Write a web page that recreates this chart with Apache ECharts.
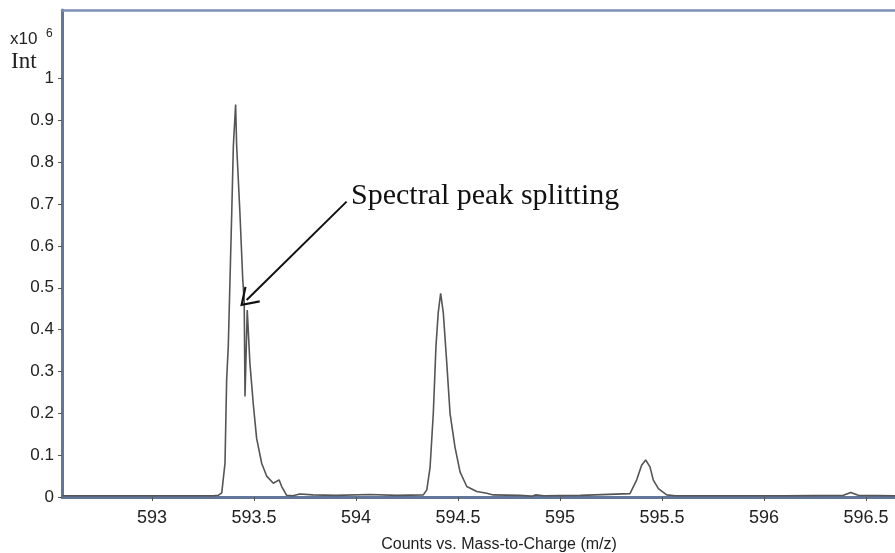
<!DOCTYPE html>
<html>
<head>
<meta charset="utf-8">
<script src="https://cdn.jsdelivr.net/npm/echarts@6/dist/echarts.min.js"></script>
<style>
  html, body { margin: 0; padding: 0; background: #fff; }
  #chart { width: 895px; height: 553px; }
</style>
</head>
<body>
<div id="chart"></div>
<script>
// m/z positions
const mz = [
  592.56, 593.0, 593.30, 593.325, 593.342, 593.358, 593.366, 593.374, 593.391, 593.399,
  593.410, 593.415, 593.431, 593.445, 593.452, 593.456, 593.467, 593.480, 593.497, 593.513,
  593.538, 593.562, 593.595, 593.623, 593.636, 593.660, 593.690, 593.725, 593.789, 593.90,
  594.069, 594.20, 594.330, 594.347, 594.363, 594.379, 594.392, 594.403, 594.415, 594.428,
  594.445, 594.461, 594.485, 594.510, 594.543, 594.592, 594.641, 594.673, 594.80, 594.86,
  594.88, 594.92, 595.10, 595.343, 595.376, 595.400, 595.420, 595.441, 595.457, 595.482,
  595.523, 595.564, 595.80, 596.10, 596.389, 596.425, 596.462, 596.642
]
// intensity (x10^6)
const intensity = [
  0.003, 0.003, 0.003, 0.004, 0.010, 0.081, 0.280, 0.360, 0.680, 0.840,
  0.938, 0.840, 0.680, 0.520, 0.470, 0.240, 0.447, 0.320, 0.220, 0.140,
  0.080, 0.050, 0.033, 0.041, 0.025, 0.004, 0.003, 0.007, 0.005, 0.004,
  0.006, 0.004, 0.005, 0.017, 0.070, 0.200, 0.360, 0.440, 0.487, 0.440,
  0.320, 0.200, 0.120, 0.060, 0.025, 0.013, 0.009, 0.005, 0.004, 0.002,
  0.005, 0.003, 0.004, 0.008, 0.041, 0.076, 0.0885, 0.072, 0.041, 0.020,
  0.005, 0.003, 0.003, 0.003, 0.004, 0.011, 0.004, 0.003
]
const xTicks = [593, 593.5, 594, 594.5, 595, 595.5, 596, 596.5]
const yTicks = [0, 0.1, 0.2, 0.3, 0.4, 0.5, 0.6, 0.7, 0.8, 0.9, 1]
// annotation arrow: from text to the split peak
const arrowFrom = [593.954, 0.706]
const arrowTo = [593.464, 0.471]

const chart = echarts.init(document.getElementById('chart'))
const axisColor = '#62759a'

const option = {
  animation: false,
  grid: { left: 62, right: 0, top: 10, bottom: 56 },
  xAxis: [
    {
      type: 'value',
      min: 592.559,
      max: 596.642,
      axisLine: { lineStyle: { color: axisColor, width: 3 } },
      axisTick: { show: true, customValues: xTicks, length: 4, lineStyle: { color: '#555', width: 1 } },
      axisLabel: {
        customValues: xTicks,
        formatter: v => String(v),
        fontFamily: 'Liberation Sans',
        fontSize: 18,
        color: '#222',
        margin: 12
      },
      splitLine: { show: false }
    },
    {
      type: 'value',
      position: 'top',
      min: 592.559,
      max: 596.642,
      axisLine: { lineStyle: { color: '#7d8fb2', width: 2.5 } },
      axisTick: { show: false },
      axisLabel: { show: false },
      splitLine: { show: false }
    }
  ],
  yAxis: {
    type: 'value',
    min: 0,
    max: 1.164,
    axisLine: { show: true, lineStyle: { color: axisColor, width: 3 } },
    axisTick: { show: true, customValues: yTicks, length: 4, lineStyle: { color: '#555', width: 1 } },
    axisLabel: {
      customValues: yTicks,
      formatter: v => String(v),
      fontFamily: 'Liberation Sans',
      fontSize: 17,
      color: '#222',
      margin: 8
    },
    splitLine: { show: false }
  },
  series: [
    {
      type: 'line',
      data: mz.map((m, i) => [m, intensity[i]]),
      showSymbol: false,
      lineStyle: { color: '#555', width: 1.6 },
      clip: true,
      markLine: {
        silent: true,
        // open V arrow head
        symbol: ['none', 'path://M0,0 L7,10 L5.9,10.8 L0,2.4 L-5.9,10.8 L-7,10 Z'],
        symbolSize: [22, 18],
        label: { show: false },
        lineStyle: { color: '#111', width: 2, type: 'solid' },
        data: [[{ coord: arrowFrom }, { coord: arrowTo }]]
      }
    }
  ],
  graphic: [
    { type: 'text', left: 10, top: 31, style: { text: 'x10', fontFamily: 'Liberation Sans', fontSize: 17, fill: '#222' } },
    { type: 'text', left: 46, top: 28, style: { text: '6', fontFamily: 'Liberation Sans', fontSize: 12, fill: '#222' } },
    { type: 'text', left: 11, top: 50, style: { text: 'Int', fontFamily: 'Liberation Serif', fontSize: 23, fill: '#222' } },
    { type: 'text', left: 351, top: 181, style: { text: 'Spectral peak splitting', fontFamily: 'Liberation Serif', fontSize: 30, fill: '#111' } },
    {
      type: 'text',
      x: 499,
      y: 545,
      style: {
        text: 'Counts vs. Mass-to-Charge (m/z)',
        fontFamily: 'Liberation Sans',
        fontSize: 16,
        fill: '#222',
        textAlign: 'center',
        textVerticalAlign: 'middle'
      }
    }
  ]
}

chart.setOption(option)
</script>
</body>
</html>
